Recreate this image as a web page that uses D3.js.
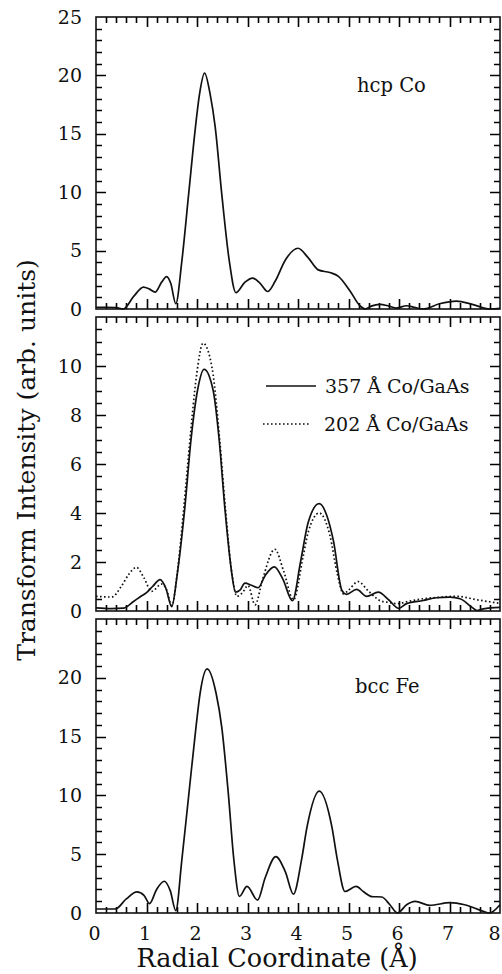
<!DOCTYPE html>
<html>
<head>
<meta charset="utf-8">
<script src="https://cdn.jsdelivr.net/npm/d3@7"></script>
<style>
  html, body { margin: 0; padding: 0; background: #fff; }
  svg { display: block; }
  text { font-family: "DejaVu Serif", "Liberation Serif", serif; fill: #111; }
</style>
</head>
<body>
<svg id="chart" width="502" height="974"></svg>
<script>
// ---------------- DATA ----------------
const xTickValues = [0, 1, 2, 3, 4, 5, 6, 7, 8];
const xTitle = "Radial Coordinate (Å)";
const yTitle = "Transform Intensity (arb. units)";

const topTicks = [0, 5, 10, 15, 20, 25];
const midTicks = [0, 2, 4, 6, 8, 10];
const botTicks = [0, 5, 10, 15, 20];

const legendLabels = ["357 Å Co/GaAs", "202 Å Co/GaAs"];
const panelLabels = ["hcp Co", "bcc Fe"];

// [r (Å), intensity]
const hcpCo = [[0,0.15],[0.2,0.15],[0.4,0.12],[0.54,0.0],[0.75,1.1],[0.94,1.88],[1.06,1.7],[1.17,1.45],
  [1.3,2.3],[1.4,2.78],[1.48,2.2],[1.58,0.45],[1.7,4.1],[1.835,9.85],[1.97,15.6],[2.05,18.4],[2.15,20.2],
  [2.26,18.4],[2.36,15.6],[2.49,9.85],[2.64,4.1],[2.77,1.4],[2.95,2.3],[3.1,2.65],[3.25,2.2],[3.4,1.5],
  [3.55,2.4],[3.75,4.2],[4.0,5.2],[4.2,4.4],[4.4,3.35],[4.63,3.12],[4.8,2.8],[5.03,1.55],[5.23,0.26],
  [5.33,0.0],[5.45,0.25],[5.62,0.4],[5.8,0.25],[5.95,0.08],[6.15,0.28],[6.3,0.15],[6.48,0.0],[6.8,0.45],
  [7.14,0.68],[7.45,0.4],[7.8,0.0],[8.0,0.05]];

const co357 = [[0,0.13],[0.3,0.1],[0.55,0.12],[0.75,0.4],[0.87,0.57],[1.0,0.75],[1.12,1.0],[1.27,1.28],
  [1.38,0.95],[1.5,0.18],[1.61,1.52],[1.76,4.24],[1.88,6.97],[2.01,9.0],[2.14,9.86],[2.32,9.0],[2.44,6.97],
  [2.55,4.24],[2.69,1.52],[2.76,0.77],[2.85,0.85],[2.95,1.14],[3.08,1.05],[3.21,0.95],[3.35,1.45],[3.53,1.8],
  [3.7,1.3],[3.89,0.42],[4.05,2.0],[4.2,3.6],[4.42,4.38],[4.57,3.9],[4.7,2.88],[4.87,0.84],[4.96,0.68],
  [5.16,0.88],[5.36,0.6],[5.59,0.77],[5.8,0.45],[5.99,0.11],[6.15,0.3],[6.48,0.43],[6.74,0.54],[7.01,0.57],
  [7.21,0.5],[7.44,0.16],[7.54,0.02],[7.67,0.09],[8.0,0.15]];

const co202 = [[0,0.6],[0.31,0.57],[0.5,1.0],[0.65,1.5],[0.8,1.78],[0.95,1.35],[1.1,0.8],[1.3,1.1],
  [1.4,0.85],[1.5,0.22],[1.6,1.4],[1.74,4.24],[1.86,6.97],[1.99,9.6],[2.12,10.93],[2.3,9.9],[2.45,6.97],
  [2.56,4.24],[2.7,1.4],[2.79,0.6],[2.9,0.75],[3.01,1.04],[3.15,0.25],[3.3,1.3],[3.54,2.52],[3.72,1.6],
  [3.91,0.46],[4.1,2.2],[4.2,3.2],[4.42,4.0],[4.63,3.1],[4.78,1.5],[4.9,0.7],[5.0,0.85],[5.19,1.2],
  [5.4,0.8],[5.65,0.4],[5.8,0.35],[5.95,0.3],[6.2,0.4],[6.48,0.5],[6.8,0.56],[7.14,0.6],[7.54,0.46],[7.97,0.32]];

const bccFe = [[0,0.34],[0.2,0.34],[0.38,0.34],[0.6,1.2],[0.81,1.8],[0.95,1.5],[1.06,0.8],[1.2,2.0],
  [1.35,2.7],[1.47,1.9],[1.58,0.2],[1.7,4.52],[1.84,10.17],[1.98,15.8],[2.06,18.64],[2.2,20.76],[2.38,18.64],
  [2.49,15.8],[2.62,10.17],[2.73,4.52],[2.84,1.41],[2.99,2.26],[3.2,1.1],[3.35,3.0],[3.56,4.8],[3.75,3.5],
  [3.91,1.6],[4.07,4.52],[4.18,7.34],[4.42,10.36],[4.67,7.34],[4.78,4.52],[4.93,1.83],[5.15,2.26],[5.3,1.8],
  [5.46,1.4],[5.66,1.36],[5.82,0.7],[5.97,0.0],[6.15,0.7],[6.32,0.99],[6.61,0.65],[7.01,0.88],[7.3,0.7],
  [7.67,0.14],[7.79,0.0],[8.0,0.7]];

// ---------------- LAYOUT ----------------
const svg = d3.select("#chart");
const X0 = 96, X1 = 500;
const x = d3.scaleLinear().domain([0, 8]).range([X0, X1]);
const xMinor = d3.range(0, 41).map(i => +(i * 0.2).toFixed(1));

const panels = [
  { top: 17,  bottom: 309, ymax: 25, ticks: topTicks, minor: 1,   series: [{d: hcpCo, dash: null}], xLabels: false },
  { top: 317, bottom: 611, ymax: 12, ticks: midTicks, minor: 0.5, series: [{d: co357, dash: null}, {d: co202, dash: "1.6,2.4"}], xLabels: false },
  { top: 619, bottom: 913, ymax: 25, ticks: botTicks, minor: 1,   series: [{d: bccFe, dash: null}], xLabels: true }
];

const MAJ = 10, MIN = 6;

panels.forEach((p) => {
  const y = d3.scaleLinear().domain([0, p.ymax]).range([p.bottom, p.top]);
  const g = svg.append("g");
  const yMinor = d3.range(0, Math.round(p.ymax / p.minor) + 1).map(i => +(i * p.minor).toFixed(1));

  // tick marks, pointing inward on all four sides, drawn as one path
  let dstr = "";
  xMinor.forEach(v => {
    const major = Math.abs(v - Math.round(v)) < 1e-6;
    const L = major ? MAJ : MIN;
    if (v > 0 && v < 8) {
      const xv = Math.round(x(v)) + 0.5;
      dstr += `M${xv},${p.bottom}V${p.bottom - L}M${xv},${p.top}V${p.top + L}`;
    }
  });
  yMinor.forEach(v => {
    const major = p.ticks.includes(v);
    const L = major ? MAJ : MIN;
    if (v > 0 && v < p.ymax) {
      const yv = Math.round(y(v)) + 0.5;
      dstr += `M${X0},${yv}H${X0 + L}M${X1},${yv}H${X1 - L}`;
    }
  });
  g.append("path").attr("d", dstr).attr("fill", "none").attr("stroke", "#000").attr("stroke-width", 1.6);

  // labels via d3 axes (no tick lines)
  const yAx = g.append("g").attr("transform", `translate(${X0},0)`)
    .call(d3.axisLeft(y).tickValues(p.ticks).tickSize(0).tickPadding(14).tickFormat(d3.format("d")));
  yAx.select(".domain").remove();
  yAx.selectAll("text").attr("font-size", 19).attr("font-family", "DejaVu Serif").attr("fill", "#111");

  if (p.xLabels) {
    const xAx = g.append("g").attr("transform", `translate(0,${p.bottom})`)
      .call(d3.axisBottom(x).tickValues(xTickValues).tickSize(0).tickPadding(13.5).tickFormat(d3.format("d")));
    xAx.select(".domain").remove();
    xAx.selectAll("text").attr("font-size", 19).attr("font-family", "DejaVu Serif").attr("fill", "#111")
      .attr("dx", d => d === 8 ? -6 : -2);
  }

  // frame
  g.append("rect").attr("x", X0).attr("y", p.top).attr("width", X1 - X0).attr("height", p.bottom - p.top)
    .attr("fill", "none").attr("stroke", "#111").attr("stroke-width", 1.6);

  // curves
  const line = d3.line().x(d => x(d[0])).y(d => y(d[1])).curve(d3.curveMonotoneX);
  p.series.forEach(s => {
    g.append("path").datum(s.d).attr("d", line).attr("fill", "none")
      .attr("stroke", "#111").attr("stroke-width", 1.7)
      .attr("stroke-dasharray", s.dash).attr("stroke-linejoin", "round");
  });
});

// panel labels
svg.append("text").attr("x", 357).attr("y", 92).attr("font-size", 19.5).text(panelLabels[0]);
svg.append("text").attr("x", 355).attr("y", 693).attr("font-size", 19.5).text(panelLabels[1]);

// legend (middle panel)
const lg = svg.append("g");
lg.append("line").attr("x1", 266).attr("x2", 316).attr("y1", 386).attr("y2", 386)
  .attr("stroke", "#111").attr("stroke-width", 1.6);
lg.append("line").attr("x1", 263).attr("x2", 311).attr("y1", 424).attr("y2", 424)
  .attr("stroke", "#111").attr("stroke-width", 1.6).attr("stroke-dasharray", "1.6,2.4");
lg.append("text").attr("x", 325).attr("y", 393).attr("font-size", 19).text(legendLabels[0]);
lg.append("text").attr("x", 324).attr("y", 431).attr("font-size", 19).text(legendLabels[1]);

// axis titles
svg.append("text").attr("x", 277).attr("y", 967).attr("text-anchor", "middle")
  .attr("font-size", 25.5).text(xTitle);
svg.append("text").attr("transform", "translate(35,460) rotate(-90)").attr("text-anchor", "middle")
  .attr("font-size", 25).text(yTitle);
</script>
</body>
</html>
